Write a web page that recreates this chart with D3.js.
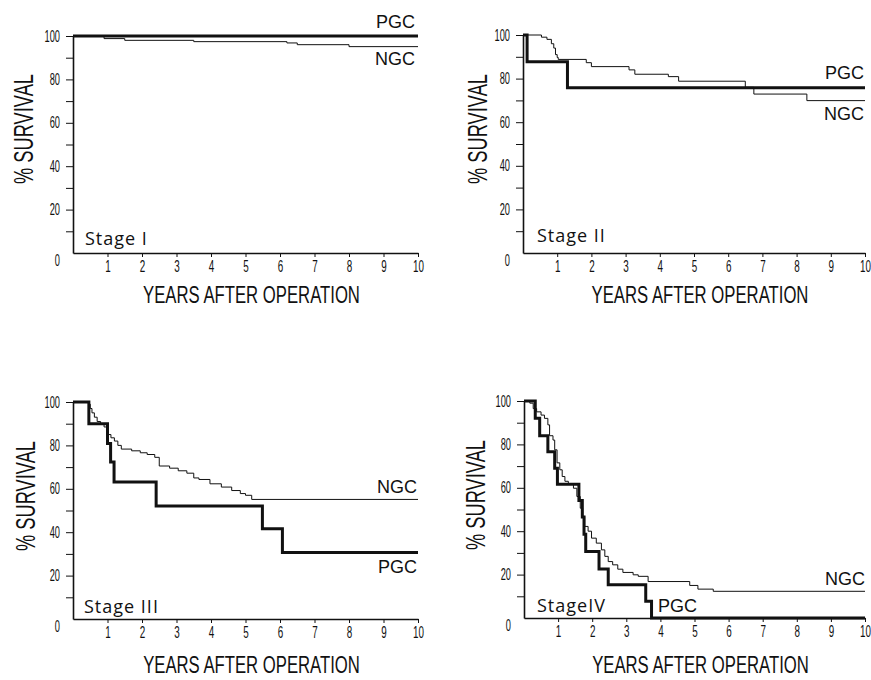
<!DOCTYPE html>
<html>
<head>
<meta charset="utf-8">
<script src="https://cdn.jsdelivr.net/npm/d3@7"></script>
<style>
  body { margin: 0; background: #fff; }
  svg { display: block; }
</style>
</head>
<body>
<svg id="chart" width="871" height="680"></svg>
<script>
// survival curves: [years, % survival]
var xTicks = [1, 2, 3, 4, 5, 6, 7, 8, 9, 10];
var yTicks = [0, 10, 20, 30, 40, 50, 60, 70, 80, 90, 100];
var stageNames = ["Stage I", "Stage II", "Stage III", "StageIV"];

var stageI_PGC = [[0, 100], [10, 100]];
var stageI_NGC = [[0, 100], [0.9, 98.8], [1.5, 98], [3.5, 97.4], [6.2, 96.8], [6.5, 96], [8.0, 95.1], [10, 95.1]];

var stageII_PGC = [[0, 100], [0.12, 87.7], [1.3, 75.8], [10, 75.8]];
var stageII_NGC = [[0, 100], [0.54, 99], [0.7, 98], [0.83, 96], [0.9, 94], [0.95, 91], [1.0, 89.7], [1.03, 88.8],
  [1.85, 87.3], [2.0, 85.5], [3.1, 84], [3.27, 82], [4.25, 80.9], [4.55, 78.8], [6.5, 76], [6.75, 72.9],
  [8.3, 69.9], [10, 69.9]];

var stageIII_PGC = [[0, 100], [0.46, 90], [1.0, 80.9], [1.09, 72.4], [1.19, 63.1], [2.41, 52.1], [5.49, 41.6],
  [6.07, 30.6], [10, 30.6]];
var stageIII_NGC = [[0, 100], [0.45, 99], [0.5, 97], [0.55, 95], [0.62, 93], [0.7, 91], [0.8, 90], [0.9, 88.5],
  [0.98, 87], [1.02, 85], [1.1, 83.5], [1.2, 82], [1.3, 80], [1.4, 78.3], [1.7, 77.5], [1.95, 76.6], [2.15, 75.8],
  [2.37, 74.5], [2.5, 70.5], [2.8, 69.5], [3.05, 68.3], [3.3, 67.2], [3.5, 65], [3.65, 64.3], [3.97, 62.3],
  [4.3, 60.8], [4.6, 59.2], [4.85, 57.8], [5.0, 57], [5.18, 55.1], [10, 55.1]];

var stageIV_PGC = [[0, 100], [0.33, 92], [0.46, 84], [0.7, 76.6], [0.9, 69], [0.98, 61.6], [1.61, 54.2],
  [1.71, 46.5], [1.76, 38.6], [1.81, 30.7], [2.2, 22.6], [2.47, 15.3], [3.57, 7.7], [3.74, 0], [10, 0]];
var stageIV_NGC = [[0, 100], [0.17, 99], [0.27, 96.5], [0.37, 95], [0.5, 93.5], [0.6, 92], [0.7, 89], [0.75, 84],
  [0.85, 82], [0.9, 77.5], [0.97, 71.5], [1.05, 68.3], [1.12, 65.2], [1.2, 63], [1.3, 61.8], [1.45, 59.8],
  [1.55, 56], [1.65, 50.6], [1.72, 46.8], [1.78, 42.2], [1.88, 40], [1.98, 36.8], [2.12, 34.5], [2.27, 31.4],
  [2.37, 28.4], [2.47, 26], [2.6, 24.5], [2.75, 22.5], [2.9, 21], [3.2, 19.9], [3.35, 19.2], [3.64, 16.8],
  [4.86, 15], [5.1, 13.3], [5.55, 12.3], [10, 12.3]];

var pgcSeries = [stageI_PGC, stageII_PGC, stageIII_PGC, stageIV_PGC];
var ngcSeries = [stageI_NGC, stageII_NGC, stageIII_NGC, stageIV_NGC];

// layout of the four panels (pixels)
var layout = [
  {x0: 73, x1: 418, y0: 253, y1: 36, ylab: [33, 129], xlab: 303, xfs: 23, stage: [85, 245],
   pgc: [415, 28], ngc: [415, 65], pgcAnchor: "end"},
  {x0: 523, x1: 865, y0: 253, y1: 35, ylab: [487, 129], xlab: 303, xfs: 23, stage: [537, 242],
   pgc: [864, 79], ngc: [864, 120], pgcAnchor: "end"},
  {x0: 73, x1: 418, y0: 619, y1: 402, ylab: [35, 496], xlab: 673, xfs: 24, stage: [84, 613],
   pgc: [417, 573], ngc: [417, 493], pgcAnchor: "end"},
  {x0: 524, x1: 865, y0: 618, y1: 401, ylab: [485, 495], xlab: 673, xfs: 24, stage: [537, 612],
   pgc: [658, 612], ngc: [865, 585], pgcAnchor: "start"}
];

var svg = d3.select("#chart");
var ink = "#111";
var narrow = "Liberation Sans, Arial, sans-serif";

// squeeze a text horizontally (in its own frame) to the wanted width
function condense(sel, width, tx, ty, rot){
  var len = sel.node().getComputedTextLength();
  var k = width / len;
  sel.attr("transform", "translate(" + tx + "," + ty + ")" + (rot ? " rotate(" + rot + ")" : "") +
    " scale(" + k + ",1)");
}

layout.forEach(function(L, i){
  var x = d3.scaleLinear().domain([0, 10]).range([L.x0, L.x1]);
  var y = d3.scaleLinear().domain([0, 100]).range([L.y0, L.y1]);
  var g = svg.append("g");

  // x axis
  var xa = g.append("g")
      .attr("transform", "translate(0," + L.y0 + ")")
      .call(d3.axisBottom(x).tickValues(xTicks).tickSize(4).tickSizeOuter(0).tickFormat(d3.format("d")));
  xa.select(".domain").attr("stroke", ink).attr("stroke-width", 1.6);
  xa.selectAll(".tick line").attr("stroke", ink);
  xa.selectAll(".tick text")
      .attr("y", 7)
      .attr("transform", "scale(0.58,1)")
      .attr("font-family", narrow)
      .attr("font-size", 17)
      .attr("fill", ink);

  // y axis
  var ya = g.append("g")
      .attr("transform", "translate(" + L.x0 + ",0)")
      .call(d3.axisLeft(y).tickValues(yTicks).tickSize(7).tickSizeOuter(0)
        .tickFormat(function(d){ return d % 20 === 0 ? d : ""; }));
  ya.select(".domain").attr("stroke", ink).attr("stroke-width", 1.6);
  ya.selectAll(".tick line").attr("stroke", ink)
      .attr("display", function(d){ return d === 0 ? "none" : null; });
  ya.selectAll(".tick text")
      .attr("x", -13 / 0.58)
      .attr("y", function(d){ return d === 0 ? 7 : 0; })
      .attr("transform", "scale(0.58,1)")
      .attr("font-family", narrow)
      .attr("font-size", 16)
      .attr("fill", ink);

  // curves
  var line = d3.line()
      .x(function(d){ return x(d[0]); })
      .y(function(d){ return y(d[1]); })
      .curve(d3.curveStepAfter);

  g.append("path")
      .datum(ngcSeries[i])
      .attr("d", line)
      .attr("fill", "none")
      .attr("stroke", ink)
      .attr("stroke-width", 1);

  g.append("path")
      .datum(pgcSeries[i])
      .attr("d", line)
      .attr("fill", "none")
      .attr("stroke", ink)
      .attr("stroke-width", 3);

  // titles
  var yt = g.append("text")
      .attr("text-anchor", "middle")
      .attr("font-family", narrow)
      .attr("font-size", 27)
      .attr("fill", ink)
      .text("% SURVIVAL");
  condense(yt, 110, L.ylab[0], L.ylab[1], -90);

  var xt = g.append("text")
      .attr("text-anchor", "middle")
      .attr("font-family", narrow)
      .attr("font-size", L.xfs)
      .attr("fill", ink)
      .text("YEARS AFTER OPERATION");
  condense(xt, 217, (L.x0 + L.x1) / 2 + 6, L.xlab, 0);

  g.append("text")
      .attr("x", L.stage[0])
      .attr("y", L.stage[1])
      .attr("font-family", "Open Sans, Lato, sans-serif")
      .attr("font-size", 18)
      .attr("letter-spacing", 1)
      .attr("fill", ink)
      .text(stageNames[i]);

  g.append("text")
      .attr("x", L.pgc[0])
      .attr("y", L.pgc[1])
      .attr("text-anchor", L.pgcAnchor)
      .attr("font-family", narrow)
      .attr("font-size", 18)
      .attr("fill", ink)
      .text("PGC");

  g.append("text")
      .attr("x", L.ngc[0])
      .attr("y", L.ngc[1])
      .attr("text-anchor", "end")
      .attr("font-family", narrow)
      .attr("font-size", 18)
      .attr("fill", ink)
      .text("NGC");
});
</script>
</body>
</html>
